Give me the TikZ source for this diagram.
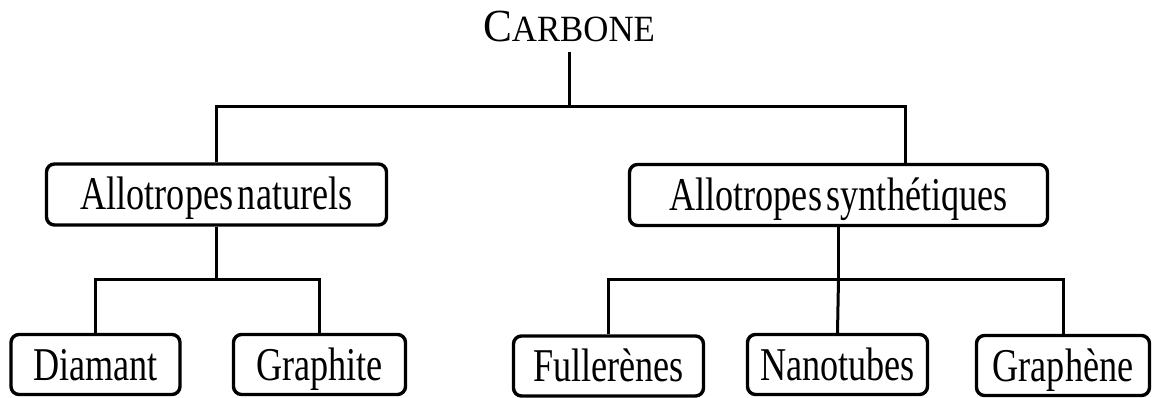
\documentclass[tikz,border=0pt]{standalone}
\usepackage{fontspec}
\usepackage{graphicx}
\setmainfont{Liberation Serif}
\newcommand{\sq}[1]{\scalebox{0.77}[1]{#1}}
\tikzset{
  every picture/.style={x=1pt,y=-1pt},
  boxnode/.style={draw=black, line width=3.4pt, rounded corners=8pt,
    text height=31pt, text depth=0pt, inner sep=0pt,
    font=\fontsize{47}{56}\selectfont},
  conn/.style={draw=black, line width=3pt},
}
\begin{document}
\begin{tikzpicture}
\useasboundingbox (0,0) rectangle (1154,398);
% title
\node[inner sep=0pt, text height=30pt, text depth=0pt] (carbone) at (569,27)
  {\scalebox{0.94}[1]{{\fontsize{46}{54}\selectfont C}{\fontsize{37}{40}\selectfont ARBONE}}};
% level 1
\node[boxnode, minimum width=340pt, minimum height=61pt] (nat) at (216.5,194.5)
  {\sq{Allotropes\hspace{6pt}naturels}};
\node[boxnode, minimum width=418pt, minimum height=61pt] (syn) at (838.5,195)
  {\sq{Allotropes\hspace{6pt}synthétiques}};
% level 2
\node[boxnode, minimum width=169pt, minimum height=60pt] (dia) at (95.5,364.5) {\sq{Diamant}};
\node[boxnode, minimum width=172pt, minimum height=60pt] (gra) at (319.5,364.5) {\sq{Graphite}};
\node[boxnode, minimum width=190pt, minimum height=60pt] (ful) at (608.5,366) {\sq{Fullerènes}};
\node[boxnode, minimum width=180pt, minimum height=60pt] (nano) at (837.5,364.5) {\sq{Nanotubes}};
\node[boxnode, minimum width=173pt, minimum height=60pt] (gph) at (1063,365.5) {\sq{Graphène}};
% junctions
\coordinate (t0) at (569,52);
\coordinate (t1) at (569,107);
\coordinate (tl) at (216.5,107);
\coordinate (tr) at (905,107);
\coordinate (nl) at (216.5,279);
\coordinate (sl) at (838.5,279);
% connectors
\draw[conn] (t0) -- (t1);
\draw[conn] (nat.north) -- (tl) -- (tr) -- (tr |- syn.north);
\draw[conn] (nat.south) -- (nl);
\draw[conn] (dia.north) |- (nl);
\draw[conn] (gra.north) |- (nl);
\draw[conn] (syn.south) -- (sl);
\draw[conn] (ful.north) |- (sl);
\draw[conn] (nano.north) -- (sl);
\draw[conn] (gph.north) |- (sl);
\end{tikzpicture}
\end{document}
